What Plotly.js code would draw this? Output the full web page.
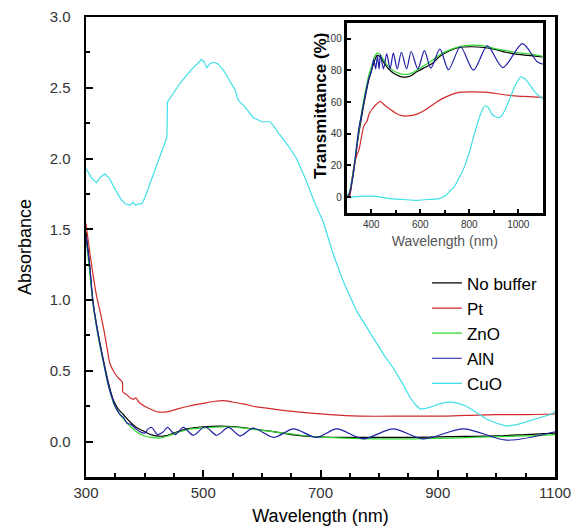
<!DOCTYPE html>
<html>
<head>
<meta charset="utf-8">
<script src="https://cdn.plot.ly/plotly-3.0.1.min.js"></script>
<style>html,body{margin:0;padding:0;background:#fff;}#chart{width:581px;height:531px;}</style>
</head>
<body>
<div id="chart"></div>
<script>
// ---------- Main chart: Absorbance ----------
const seriesNames = ["No buffer", "Pt", "ZnO", "AlN", "CuO"];

const noBufferWl = [300,305,312,320,330,338,347,355,364,375,386,400,410,420,435,450,472,500,528,555,585,620,650,688,720,780,850,920,1000,1050,1100];
const noBufferAbs = [1.48,1.30,0.99,0.78,0.57,0.42,0.29,0.23,0.19,0.14,0.10,0.07,0.05,0.04,0.04,0.06,0.09,0.105,0.11,0.105,0.09,0.07,0.05,0.035,0.03,0.03,0.03,0.035,0.04,0.05,0.06];

const ptWl = [300,305,312,318,324,330,336,341,348,355,362,363,370,375,381,385,390,400,410,423,438,455,475,500,520,534,550,570,585,620,660,716,767,850,910,949,1000,1050,1100];
const ptAbs = [1.54,1.38,1.18,1.03,0.92,0.80,0.66,0.55,0.49,0.45,0.42,0.35,0.33,0.31,0.30,0.31,0.28,0.25,0.23,0.21,0.21,0.23,0.25,0.27,0.285,0.29,0.28,0.265,0.25,0.23,0.21,0.19,0.18,0.18,0.18,0.185,0.19,0.19,0.195];

const znoWl = [300,305,312,320,330,338,347,355,364,375,386,400,412,425,440,460,480,510,540,570,600,640,688,740,800,860,920,1000,1050,1100];
const znoAbs = [1.42,1.25,0.97,0.76,0.55,0.40,0.27,0.21,0.16,0.11,0.07,0.04,0.03,0.025,0.04,0.07,0.09,0.10,0.105,0.095,0.08,0.06,0.035,0.025,0.02,0.02,0.025,0.035,0.04,0.05];

const alnWl = [300,306,312,320,330,338,347,352,358,364,370,377,385,392,400,406,412,422,432,439,452,466,483,503,523,543,563,585,620,654,693,728,773,824,875,944,1018,1100];
const alnAbs = [1.45,1.25,0.98,0.77,0.56,0.40,0.28,0.23,0.19,0.17,0.13,0.12,0.09,0.07,0.06,0.09,0.10,0.05,0.07,0.10,0.05,0.10,0.045,0.105,0.045,0.10,0.04,0.095,0.03,0.09,0.03,0.09,0.02,0.09,0.02,0.09,0.01,0.07];

const cuoWl = [300,310,318,325,332,340,350,360,367,375,380,385,390,395,400,410,420,430,438,439,450,460,470,480,490,497,502,506,511,517,525,535,545,551,555,558,560,570,585,600,614,620,630,645,659,675,690,705,722,740,762,780,796,810,824,840,853,862,870,880,892,905,921,935,949,965,983,1000,1018,1035,1052,1070,1091,1100];
const cuoAbs = [1.93,1.86,1.83,1.87,1.89,1.86,1.78,1.71,1.68,1.67,1.69,1.67,1.68,1.68,1.72,1.83,1.95,2.06,2.15,2.40,2.47,2.53,2.58,2.63,2.67,2.70,2.68,2.64,2.67,2.68,2.67,2.62,2.55,2.51,2.48,2.43,2.41,2.37,2.29,2.26,2.26,2.23,2.17,2.09,2.00,1.85,1.69,1.55,1.32,1.12,0.92,0.80,0.69,0.60,0.52,0.41,0.31,0.26,0.23,0.235,0.25,0.27,0.28,0.27,0.25,0.21,0.16,0.13,0.11,0.12,0.14,0.16,0.19,0.21];

// ---------- Inset: Transmittance ----------
const tNoBufferWl = [300,311,320,330,340,350,360,370,380,390,400,410,418,424,437,455,477,500,530,560,584,620,650,680,720,757,810,860,900,950,984,1040,1100];
const tNoBuffer = [0,1,8,18,30,41,50,59,67,74,80,84.5,88,89.5,88.5,84,80,77.5,75.8,76.5,79,82,84.5,89,92.5,94.5,95,94.5,93.5,91.5,90.5,89.5,88.5];

const tPtWl = [300,311,320,330,340,350,360,370,378,383,390,403,420,437,455,477,500,530,560,584,620,664,700,757,820,877,930,984,1040,1100];
const tPt = [0,1,10,20,26,30,38,45,47,48,52,55.5,58.5,60.5,58,55.5,53,51.3,51.5,52.3,55,59.8,63,66.2,66.5,66.2,65,64,63.5,63];

const tZnoWl = [300,310,320,330,340,350,360,370,380,390,400,410,418,424,437,455,477,500,530,560,584,620,650,680,720,757,810,860,900,950,984,1040,1100];
const tZno = [0,3,10,20,32,43,53,62,70,77,82,87,90,91,90,85.5,81.5,79,77.5,78,80,83.5,86.5,90,93,95,96,95.5,94,92.5,91.5,90.5,89];

const tAlnWl = [300,310,320,330,340,350,360,370,380,390,400,410,418,425,432,437,450,463,477,490,506,523,544,563,590,617,643,680,715,764,817,874,937,1017,1077,1100];
const tAln = [0,2,9,19,32,44,52,60,68,75,79,87,81,89,81,90,81,90.5,81,91,81,91.5,81,92,81,92.5,81.5,93.5,80.5,95,80.2,95.5,81.8,97,85.5,84];

const tCuoWl = [300,311,350,397,440,477,530,584,630,677,700,717,740,757,777,797,810,824,845,864,877,895,917,930,944,965,984,1000,1010,1025,1044,1065,1084,1100];
const tCuo = [0,0,0.5,0.6,0,-0.9,-1.5,-2,-1.5,-0.9,0.5,3.2,7,11.8,18,26.7,34,41.7,52,57.7,56.6,52,50.2,51,54.5,62,69.4,74,75.9,75,71.6,67,64,62];

const colors = ["#000000", "#d02a2a", "#2fd82f", "#1f1fa6", "#3fe0e6"];

const mainX = [noBufferWl, ptWl, znoWl, alnWl, cuoWl];
const mainY = [noBufferAbs, ptAbs, znoAbs, alnAbs, cuoAbs];
const insetX = [tNoBufferWl, tPtWl, tZnoWl, tAlnWl, tCuoWl];
const insetY = [tNoBuffer, tPt, tZno, tAln, tCuo];

const traces = [];
for (let i = 0; i < 5; i++) {
  traces.push({
    x: mainX[i], y: mainY[i], type: "scatter", mode: "lines", name: seriesNames[i],
    line: {color: colors[i], width: 1.2, shape: i === 4 ? "linear" : "spline", smoothing: 0.8},
    xaxis: "x", yaxis: "y"
  });
}
for (let i = 0; i < 5; i++) {
  traces.push({
    x: insetX[i], y: insetY[i], type: "scatter", mode: "lines", name: seriesNames[i],
    showlegend: false,
    line: {color: colors[i], width: 1.2, shape: "spline", smoothing: 0.8},
    xaxis: "x2", yaxis: "y2"
  });
}

const fontFam = "Liberation Sans, Arial, sans-serif";

const layout = {
  width: 581, height: 531,
  margin: {l: 86, r: 26, t: 17, b: 54},
  paper_bgcolor: "#ffffff", plot_bgcolor: "rgba(0,0,0,0)",
  font: {family: fontFam, color: "#000"},
  showlegend: true,
  legend: {
    x: 0.727, xanchor: "left", y: 0.46, yanchor: "top",
    bgcolor: "rgba(0,0,0,0)", borderwidth: 0,
    font: {size: 17, family: fontFam, color: "#000"},
    tracegroupgap: 0
  },
  annotations: [{
    text: "<b>Transmittance (%)</b>", textangle: -90,
    xref: "paper", yref: "paper", x: 0.4985, y: 0.806,
    xanchor: "center", yanchor: "middle", showarrow: false,
    font: {size: 17, color: "#000", family: fontFam}
  }],
  xaxis: {
    domain: [0, 1], anchor: "y",
    range: [300, 1100], tick0: 300, dtick: 200,
    ticks: "inside", ticklen: 7, tickwidth: 2, tickcolor: "#000",
    minor: {dtick: 50, ticks: "inside", ticklen: 4, tickwidth: 2, tickcolor: "#000"},
    showline: true, linewidth: 2.5, linecolor: "#000", mirror: true,
    showgrid: false, zeroline: false,
    tickfont: {size: 15, color: "#333"},
    title: {text: "Wavelength (nm)", font: {size: 18, color: "#000"}, standoff: 10}
  },
  yaxis: {
    domain: [0, 1], anchor: "x",
    range: [-0.25, 3.0], tick0: 0, dtick: 0.5, tickformat: ".1f",
    ticks: "inside", ticklen: 7, tickwidth: 2, tickcolor: "#000",
    minor: {dtick: 0.25, ticks: "inside", ticklen: 4, tickwidth: 2, tickcolor: "#000"},
    showline: true, linewidth: 2.5, linecolor: "#000", mirror: true,
    showgrid: false, zeroline: false, ticklabelstandoff: 10,
    tickfont: {size: 15, color: "#333"},
    title: {text: "Absorbance", font: {size: 18, color: "#000"}, standoff: 14}
  },
  xaxis2: {
    domain: [0.556, 0.974], anchor: "y2",
    range: [300, 1100], tick0: 400, dtick: 200,
    ticks: "inside", ticklen: 4, tickwidth: 2, tickcolor: "#000",
    minor: {dtick: 100, ticks: "inside", ticklen: 3, tickwidth: 2, tickcolor: "#000"},
    showline: true, linewidth: 3, linecolor: "#000", mirror: true,
    showgrid: false, zeroline: false,
    tickfont: {size: 10, color: "#333"},
    title: {text: "Wavelength (nm)", font: {size: 14, color: "#555"}, standoff: 8}
  },
  yaxis2: {
    domain: [0.574, 0.987], anchor: "x2",
    range: [-10, 110], tick0: 0, dtick: 20,
    ticks: "inside", ticklen: 4, tickwidth: 2, tickcolor: "#000",
    showline: true, linewidth: 3, linecolor: "#000", mirror: true,
    showgrid: false, zeroline: false,
    tickfont: {size: 10, color: "#333"}
  }
};

Plotly.newPlot("chart", traces, layout, {displayModeBar: false, staticPlot: true});
</script>
</body>
</html>
